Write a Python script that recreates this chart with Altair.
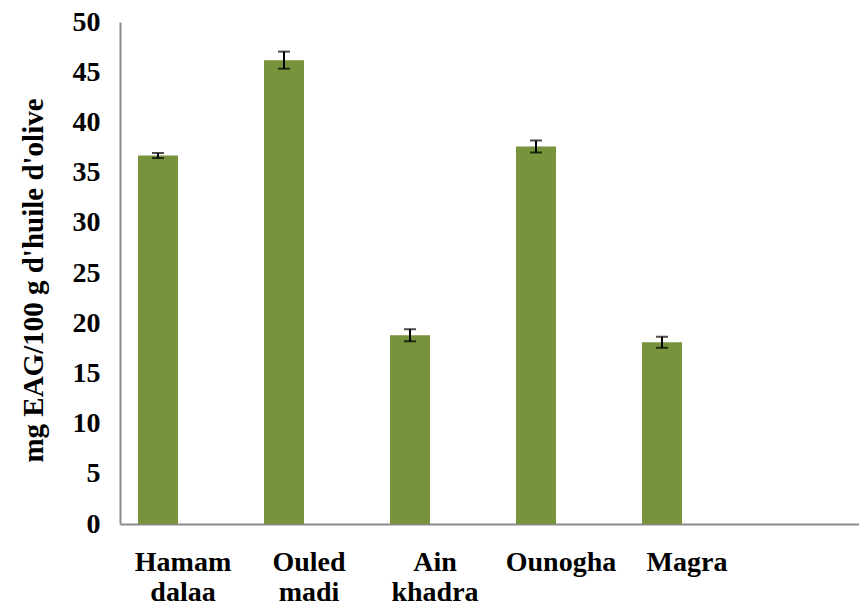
import altair as alt
import pandas as pd

categories = ["Hamam dalaa", "Ouled madi", "Ain khadra", "Ounogha", "Magra"]
values = [36.7, 46.2, 18.8, 37.6, 18.1]
errors = [0.25, 0.85, 0.6, 0.6, 0.55]
series = ["s1", "s2"]          # second (empty) series slot, as in the original layout
x_domain = categories + [" "]  # sixth, empty category slot

df = pd.DataFrame({"cat": categories, "val": values, "err": errors, "ser": "s1"})
df["lo"] = df["val"] - df["err"]
df["hi"] = df["val"] + df["err"]

FONT = "Times New Roman, Liberation Serif, serif"
H = 502
W = 739
STEP = 126

xscale = alt.Scale(domain=x_domain, range=[0, STEP * len(x_domain)], paddingInner=0, paddingOuter=0)
offscale = alt.Scale(domain=series, paddingInner=0.2, paddingOuter=0.36)
yscale = alt.Scale(domain=[0, 50], nice=False, zero=True)

x = alt.X("cat:N", scale=xscale, sort=x_domain, title=None,
          axis=alt.Axis(labelAngle=0, labelFontSize=28, labelPadding=24, labelLineHeight=30,
                        labelExpr="split(datum.label, ' ')", labelBaseline="top",
                        labelFont=FONT, labelFontWeight="bold", labelColor="black",
                        ticks=False))
xo = alt.XOffset("ser:N", scale=offscale)

base = alt.Chart(df)

bars = base.mark_bar(color="#77933C").encode(
    x=x,
    xOffset=xo,
    y=alt.Y("val:Q", scale=yscale, title="mg EAG/100 g d'huile d'olive",
            axis=alt.Axis(values=list(range(0, 51, 5)), grid=False, ticks=False,
                          labelFontSize=28, labelPadding=20,
                          labelFont=FONT, labelFontWeight="bold", labelColor="black",
                          titleFont=FONT, titleFontWeight="bold", titleColor="black",
                          titleFontSize=29, titleX=-87, titleY=258,
                          titleAngle=-90, titleAlign="center", titleBaseline="middle")),
)

rule = base.mark_rule(color="black", strokeWidth=2).encode(
    x=alt.X("cat:N", scale=xscale, sort=x_domain),
    xOffset=xo,
    y=alt.Y("lo:Q", scale=yscale),
    y2="hi:Q",
)
cap_lo = base.mark_tick(color="black", thickness=2, size=12).encode(
    x=alt.X("cat:N", scale=xscale, sort=x_domain),
    xOffset=xo,
    y=alt.Y("lo:Q", scale=yscale),
)
cap_hi = base.mark_tick(color="black", thickness=2, size=12).encode(
    x=alt.X("cat:N", scale=xscale, sort=x_domain),
    xOffset=xo,
    y=alt.Y("hi:Q", scale=yscale),
)

chart = alt.layer(bars, rule, cap_lo, cap_hi).properties(
    width=W, height=H,
    background="white",
    autosize=alt.AutoSizeParams(type="none"),
    padding={"left": 112, "top": 14, "right": 0, "bottom": 84},
).configure_axis(
    labelFont=FONT, labelFontWeight="bold", labelColor="black",
    titleFont=FONT, titleFontWeight="bold", titleColor="black",
    domainColor="#8a8a8a", domainWidth=2, grid=False,
).configure_view(stroke=None)

chart.save("out.html", embed_options={"renderer": "svg", "actions": False})
